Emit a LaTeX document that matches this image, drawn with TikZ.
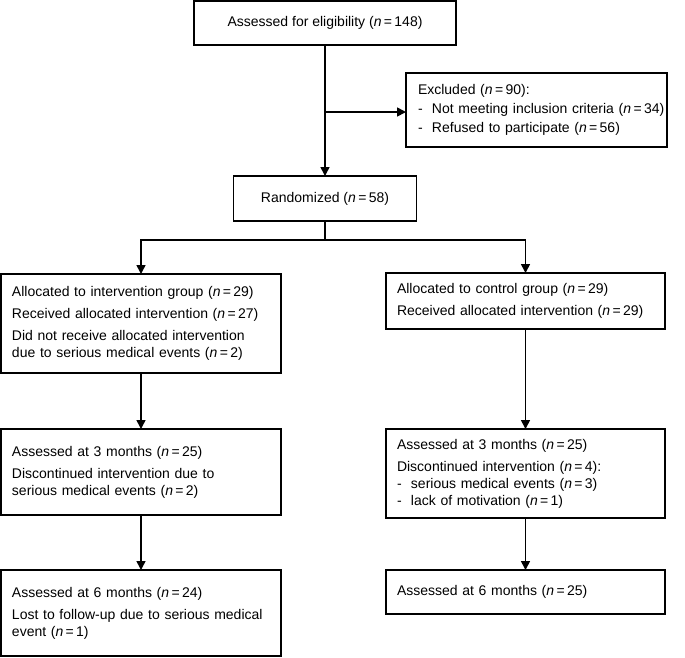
\documentclass[tikz,border=0pt]{standalone}
\usepackage{fontspec}
\setmainfont{Liberation Sans}
\usetikzlibrary{arrows.meta}
\newcommand{\nn}[1]{(\textit{n}\,=\,#1)}
\newcommand{\exline}[1]{\hspace*{12pt}\mbox{#1}}
\begin{document}
\begin{tikzpicture}[x=1pt,y=-1pt,
 box/.style={draw, line width=1.6pt, outer sep=0pt, anchor=north west, align=left, inner xsep=11pt, inner ysep=0pt, font=\fontsize{14}{17}\selectfont},
 cbox/.style={box, align=center},
 arr/.style={line width=1.6pt, -{Triangle[length=9pt,width=9pt]}},
 ln/.style={line width=1.6pt}]
\useasboundingbox (0,0) rectangle (685,657);

\node[cbox, minimum width=262pt, minimum height=44pt] (top) at (194,1) {Assessed for eligibility \nn{148}};
\node[box, minimum width=261pt, minimum height=74pt, text width=261pt, inner xsep=0pt] (excl) at (406,73)
 {\exline{Excluded \nn{90}:}\\[2pt]
  \exline{-\ \ Not meeting inclusion criteria \nn{34}}\\[2pt]
  \exline{-\ \ Refused to participate \nn{56}}};
\node[cbox, minimum width=183pt, minimum height=45pt] (rand) at (233.5,176) {Randomized \nn{58}};

\node[box, minimum width=280pt, minimum height=99pt, text width=258pt] (l1) at (1,274)
 {Allocated to intervention group \nn{29}\\[5pt]
  Received allocated intervention \nn{27}\\[5pt]
  Did not receive allocated intervention\\
  due to serious medical events \nn{2}};
\node[box, minimum width=280pt, minimum height=86pt, text width=258pt] (l2) at (1,429)
 {Assessed at 3 months \nn{25}\\[5pt]
  Discontinued intervention due to\\
  serious medical events \nn{2}};
\node[box, minimum width=280pt, minimum height=86pt, text width=258pt] (l3) at (1,570)
 {Assessed at 6 months \nn{24}\\[5pt]
  Lost to follow-up due to serious medical\\
  event \nn{1}};

\node[box, minimum width=279pt, minimum height=56pt, text width=257pt] (r1) at (386,273)
 {Allocated to control group \nn{29}\\[5pt]
  Received allocated intervention \nn{29}};
\node[box, minimum width=279pt, minimum height=89pt, text width=257pt] (r2) at (386,429)
 {Assessed at 3 months \nn{25}\\[5pt]
  Discontinued intervention \nn{4}:\\
  -\ \ serious medical events \nn{3}\\
  -\ \ lack of motivation \nn{1}};
\node[box, minimum width=279pt, minimum height=44pt, text width=257pt] (r3) at (386,570)
 {Assessed at 6 months \nn{25}};

\draw[arr] (top.south) -- (top.south |- rand.north);
\coordinate (j) at (325,112);
\draw[arr] (j) -- (j -| excl.west);
\coordinate (b) at (325,240);
\draw[ln] (rand.south) -- (b);
\draw[arr] (b) -| (l1.north);
\draw[arr] (b) -| (r1.north);
\draw[arr] (l1.south) -- (l2.north);
\draw[arr] (l2.south) -- (l3.north);
\draw[arr] (r1.south) -- (r2.north);
\draw[arr] (r2.south) -- (r3.north);
\end{tikzpicture}
\end{document}
